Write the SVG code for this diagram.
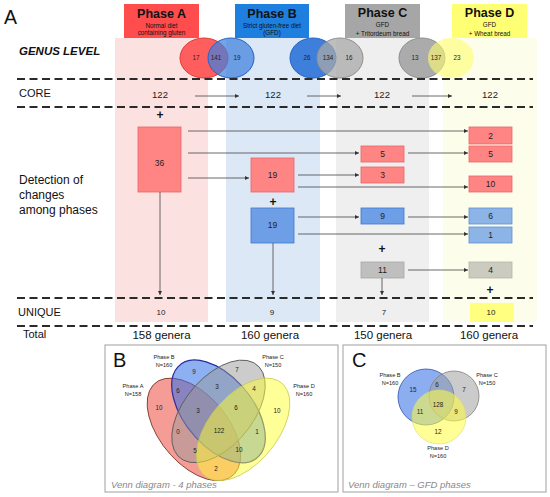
<svg xmlns="http://www.w3.org/2000/svg" width="550" height="497" viewBox="0 0 550 497">
<defs>
<marker id="ah" viewBox="0 0 6 6" refX="6" refY="3" markerWidth="4.5" markerHeight="4" orient="auto" markerUnits="userSpaceOnUse"><path d="M0,0 L6,3 L0,6 z" fill="#333"/></marker>
</defs>
<style>
text{font-family:"Liberation Sans",Arial,sans-serif;fill:#111}
.hd{font-weight:bold;font-size:12.5px;text-anchor:middle}
.sub{font-size:6.3px;text-anchor:middle}
.lbl{font-size:11px}
.num{font-size:8.5px;text-anchor:middle;fill:#222}
.core{font-size:9.5px;text-anchor:middle;fill:#222}
.uni{font-size:8px;text-anchor:middle;fill:#222}
.tot{font-size:11.5px;text-anchor:middle}
.vn{font-size:6.3px;text-anchor:middle;fill:#222}
.vl{font-size:5.6px;text-anchor:middle;fill:#222}
.plus{font-size:12px;font-weight:bold;text-anchor:middle}
.dash{stroke:#2a2a2a;stroke-width:1.8;stroke-dasharray:8 4.5;fill:none}
.ar{stroke:#444;stroke-width:0.8;fill:none;marker-end:url(#ah)}
.pk{fill:#FF8585;stroke:#E86464;stroke-width:0.8}
.bl{fill:#6E9FE6;stroke:#3E78D0;stroke-width:0.8}
.bl2{fill:#8DB4E6;stroke:#5F90D4;stroke-width:0.8}
.gr{fill:#BFBFBF;stroke:#A8A8A8;stroke-width:0.8}
.cap{font-size:9.5px;font-style:italic;fill:#888}
.pan{fill:#fff;stroke:#A0A0A0;stroke-width:1}
</style>

<!-- column backgrounds -->
<g id="backgrounds">
<rect x="115" y="38" width="93" height="284" fill="#FCE1E1"/>
<rect x="226" y="38" width="94" height="284" fill="#DDE8F7"/>
<rect x="336" y="38" width="93" height="284" fill="#EFEFEF"/>
<rect x="443" y="38" width="94" height="284" fill="#FDFDEC"/>
</g>

<text x="4" y="24" style="font-size:19.5px">A</text>

<g id="headerA">
<rect x="124" y="4" width="75" height="34" fill="#FF4D4D"/>
<text class="hd" x="161.5" y="17.5">Phase A</text>
<text class="sub" x="161.5" y="28">Normal diet</text>
<text class="sub" x="161.5" y="35">containing gluten</text>
</g>
<g id="headerB">
<rect x="235" y="4" width="74" height="34" fill="#1E7FDF"/>
<text class="hd" x="272" y="17.5">Phase B</text>
<text class="sub" x="272" y="27.5">Strict gluten-free diet</text>
<text class="sub" x="272" y="35">(GFD)</text>
</g>
<g id="headerC">
<rect x="345" y="4" width="75" height="34" fill="#A6A6A6"/>
<text class="hd" x="382.5" y="17">Phase C</text>
<text class="sub" x="382.5" y="26.5">GFD</text>
<text class="sub" x="382.5" y="36.3">+ Tritordeum bread</text>
</g>
<g id="headerD">
<rect x="452" y="4" width="75" height="34" fill="#FFFF73"/>
<text class="hd" x="489.5" y="17">Phase D</text>
<text class="sub" x="489.5" y="26.5">GFD</text>
<text class="sub" x="489.5" y="36.3">+ Wheat bread</text>
</g>

<text x="19" y="55" style="font-size:11.5px;font-weight:bold;font-style:italic">GENUS LEVEL</text>

<g id="venn-AB">
<ellipse cx="204" cy="58" rx="24" ry="20" fill="#FF5E5E" stroke="#E03A3A" stroke-width="1"/>
<ellipse cx="231" cy="58" rx="23" ry="20" fill="#3F7FDC" fill-opacity="0.72" stroke="#2563C4" stroke-width="1"/>
<text class="vn" x="196" y="60">17</text>
<text class="vn" x="216" y="60">141</text>
<text class="vn" x="237" y="60">19</text>
</g>
<g id="venn-BC">
<ellipse cx="313" cy="58" rx="23" ry="20" fill="#3F7FDC" stroke="#2563C4" stroke-width="1"/>
<ellipse cx="340" cy="58" rx="23" ry="20" fill="#A8A8A8" fill-opacity="0.75" stroke="#8E8E8E" stroke-width="1"/>
<text class="vn" x="307" y="60">26</text>
<text class="vn" x="328" y="60">134</text>
<text class="vn" x="349" y="60">16</text>
</g>
<g id="venn-CD">
<ellipse cx="422" cy="58" rx="23" ry="20" fill="#ABABAB" stroke="#8E8E8E" stroke-width="1"/>
<ellipse cx="451" cy="58" rx="23" ry="20" fill="#FFFF70" fill-opacity="0.6"/>
<text class="vn" x="415" y="60">13</text>
<text class="vn" x="436" y="60">137</text>
<text class="vn" x="457" y="60">23</text>
</g>

<g id="dashes">
<line class="dash" x1="17" y1="79" x2="533" y2="79"/>
<line class="dash" x1="17" y1="107" x2="533" y2="107"/>
<line class="dash" x1="17" y1="298" x2="533" y2="298"/>
<line class="dash" x1="17" y1="326" x2="533" y2="326"/>
</g>

<text class="lbl" x="19" y="97">CORE</text>
<text x="19" y="184" style="font-size:12px">Detection of</text>
<text x="19" y="199" style="font-size:12px">changes</text>
<text x="19" y="214" style="font-size:12px">among phases</text>
<text class="lbl" x="18" y="316">UNIQUE</text>
<text class="lbl" x="23" y="338">Total</text>

<g id="core">
<text class="core" x="160" y="97.5">122</text>
<text class="core" x="273" y="97.5">122</text>
<text class="core" x="382" y="97.5">122</text>
<text class="core" x="490" y="97.5">122</text>
</g>

<text class="plus" x="160" y="119">+</text>
<text class="plus" x="273" y="206">+</text>
<text class="plus" x="382" y="253">+</text>
<text class="plus" x="490" y="294">+</text>

<g id="boxA36"><rect class="pk" x="138" y="127" width="43" height="65"/><text class="num" x="159.5" y="166">36</text></g>
<g id="boxB19p"><rect class="pk" x="251" y="158" width="43" height="34"/><text class="num" x="272.5" y="178">19</text></g>
<g id="boxB19b"><rect class="bl" x="251" y="208" width="43" height="35"/><text class="num" x="272.5" y="228">19</text></g>
<g id="boxC5"><rect class="pk" x="361" y="146" width="43" height="16"/><text class="num" x="382.5" y="157">5</text></g>
<g id="boxC3"><rect class="pk" x="361" y="167" width="43" height="16"/><text class="num" x="382.5" y="178">3</text></g>
<g id="boxC9"><rect class="bl" x="361" y="208" width="43" height="16"/><text class="num" x="382.5" y="219">9</text></g>
<g id="boxC11"><rect class="gr" x="361" y="262" width="43" height="16"/><text class="num" x="382.5" y="273">11</text></g>
<g id="boxD2"><rect class="pk" x="469" y="127" width="43" height="17"/><text class="num" x="490.5" y="138.5">2</text></g>
<g id="boxD5"><rect class="pk" x="469" y="146" width="43" height="16"/><text class="num" x="490.5" y="157">5</text></g>
<g id="boxD10"><rect class="pk" x="469" y="176" width="43" height="16"/><text class="num" x="490.5" y="187">10</text></g>
<g id="boxD6"><rect class="bl2" x="469" y="208" width="43" height="16"/><text class="num" x="490.5" y="219">6</text></g>
<g id="boxD1"><rect class="bl2" x="469" y="227" width="43" height="16"/><text class="num" x="490.5" y="238">1</text></g>
<g id="boxD4"><rect x="469" y="262" width="43" height="16" fill="#CBCBC0" stroke="#B5B5AA" stroke-width="0.8"/><text class="num" x="490.5" y="273">4</text></g>

<g id="connectors">
<line class="ar" x1="195" y1="96" x2="239" y2="96"/>
<line class="ar" x1="307" y1="96" x2="341" y2="96"/>
<line class="ar" x1="412" y1="96" x2="452" y2="96"/>
<line class="ar" x1="188" y1="131" x2="468" y2="131"/>
<line class="ar" x1="188" y1="153" x2="359" y2="153"/>
<line class="ar" x1="188" y1="178" x2="249" y2="178"/>
<line class="ar" x1="408" y1="153" x2="468" y2="153"/>
<line class="ar" x1="298" y1="175" x2="359" y2="175"/>
<line class="ar" x1="298" y1="187" x2="468" y2="187"/>
<line class="ar" x1="298" y1="217" x2="359" y2="217"/>
<line class="ar" x1="298" y1="234" x2="468" y2="234"/>
<line class="ar" x1="408" y1="217" x2="468" y2="217"/>
<line class="ar" x1="408" y1="270" x2="468" y2="270"/>
<line class="ar" x1="160" y1="192" x2="160" y2="295"/>
<line class="ar" x1="273" y1="243" x2="273" y2="295"/>
<line class="ar" x1="382" y1="278" x2="382" y2="295"/>
</g>

<g id="unique">
<text class="uni" x="161" y="315">10</text>
<text class="uni" x="272" y="315">9</text>
<text class="uni" x="384" y="315">7</text>
<rect x="470" y="303" width="44" height="19" fill="#FFFF80"/>
<text class="uni" x="491" y="315">10</text>
</g>

<g id="totals">
<text class="tot" x="161.5" y="339">158 genera</text>
<text class="tot" x="270" y="339">160 genera</text>
<text class="tot" x="383" y="339">150 genera</text>
<text class="tot" x="489" y="339">160 genera</text>
</g>

<g id="panelB">
<rect class="pan" x="105" y="345" width="233" height="147"/>
<text x="113" y="367" style="font-size:20px">B</text>
<g transform="translate(218.5 424) scale(164 -180)">
<ellipse rx="0.35" ry="0.2" transform="translate(-0.15 -0.03) rotate(-45)" fill="#EE4A40" fill-opacity="0.55" stroke="#8A4030" stroke-width="1" vector-effect="non-scaling-stroke"/>
<ellipse rx="0.35" ry="0.2" transform="translate(0 0.07) rotate(-45)" fill="#2F6FE8" fill-opacity="0.55" stroke="#2A2AA0" stroke-width="1.2" vector-effect="non-scaling-stroke"/>
<ellipse rx="0.35" ry="0.2" transform="translate(0 0.07) rotate(45)" fill="#9A9A9A" fill-opacity="0.5" stroke="#606060" stroke-width="1" vector-effect="non-scaling-stroke"/>
<ellipse rx="0.35" ry="0.2" transform="translate(0.15 -0.03) rotate(45)" fill="#FFFF30" fill-opacity="0.5" stroke="#C8C850" stroke-width="0.8" vector-effect="non-scaling-stroke"/>
</g>
<text class="vl" x="133" y="388">Phase A</text>
<text class="vl" x="133" y="396">N=158</text>
<text class="vl" x="164" y="359">Phase B</text>
<text class="vl" x="164" y="367">N=160</text>
<text class="vl" x="273" y="359">Phase C</text>
<text class="vl" x="273" y="367">N=150</text>
<text class="vl" x="304" y="388">Phase D</text>
<text class="vl" x="304" y="396">N=160</text>
<text class="vn" x="194" y="374">9</text>
<text class="vn" x="237" y="372">7</text>
<text class="vn" x="178" y="393">6</text>
<text class="vn" x="217" y="389">3</text>
<text class="vn" x="254" y="391">4</text>
<text class="vn" x="159" y="410">10</text>
<text class="vn" x="198" y="413">3</text>
<text class="vn" x="236" y="410">6</text>
<text class="vn" x="277" y="413">10</text>
<text class="vn" x="178" y="434">0</text>
<text class="vn" x="219" y="433">122</text>
<text class="vn" x="257" y="434">1</text>
<text class="vn" x="195" y="453">5</text>
<text class="vn" x="239" y="452">10</text>
<text class="vn" x="216" y="471">2</text>
<text class="cap" x="111" y="488">Venn diagram - 4 phases</text>
</g>

<g id="panelC">
<rect class="pan" x="343" y="345" width="203" height="147"/>
<text x="352" y="367" style="font-size:20px">C</text>
<circle cx="426" cy="397" r="28" fill="#3F78E8" fill-opacity="0.6" stroke="#3050B0" stroke-width="0.8"/>
<circle cx="454" cy="396" r="25" fill="#A0A0A0" fill-opacity="0.55" stroke="#808080" stroke-width="0.8"/>
<circle cx="439" cy="417" r="27" fill="#FFFF40" fill-opacity="0.55" stroke="#D8D870" stroke-width="0.6"/>
<text class="vl" x="390" y="377">Phase B</text>
<text class="vl" x="390" y="385">N=160</text>
<text class="vl" x="487" y="377">Phase C</text>
<text class="vl" x="487" y="385">N=150</text>
<text class="vl" x="438" y="450">Phase D</text>
<text class="vl" x="438" y="458">N=160</text>
<text class="vn" x="413" y="392">15</text>
<text class="vn" x="437" y="387">6</text>
<text class="vn" x="464" y="392">7</text>
<text class="vn" x="438" y="407">128</text>
<text class="vn" x="420" y="414">11</text>
<text class="vn" x="456" y="414">9</text>
<text class="vn" x="438" y="434">12</text>
<text class="cap" x="348" y="488">Venn diagram – GFD phases</text>
</g>
</svg>
